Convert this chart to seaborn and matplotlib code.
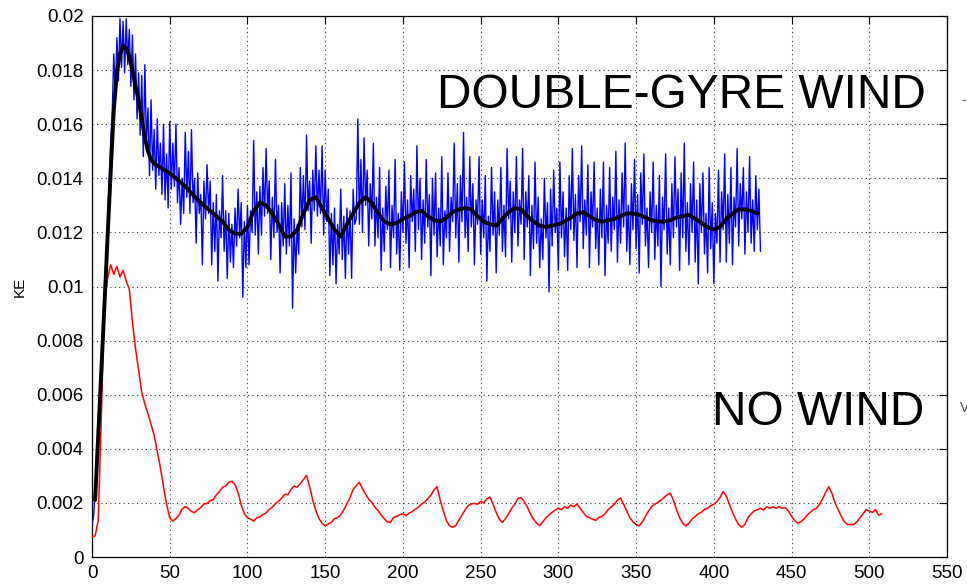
import numpy as np
import pandas as pd
import matplotlib
matplotlib.use("Agg")
import matplotlib.pyplot as plt
import seaborn as sns

sns.set_style("white")
plt.rcParams["font.family"] = ["Liberation Sans", "DejaVu Sans"]
plt.rcParams["text.color"] = "black"
plt.rcParams["axes.labelcolor"] = "black"

# Kinetic energy, in units of 1e-3
# Double-gyre wind forcing, raw record, one sample per time unit (t = 0 ... 430)
blue_ke = [
    1.2, 1.5, 2.4, 3.6, 4.9, 6.1, 7.3, 8.6, 9.8, 11.1,
    12.4, 13.9, 15.3, 16.4, 18.6, 17.1, 19.2, 17.6, 19.9, 18.1,
    19.8, 17.9, 19.9, 18.2, 19.5, 17.4, 19.3, 16.9, 18.6, 16.2,
    17.9, 15.6, 17.8, 14.8, 18.2, 15.3, 16.6, 14.1, 16.9, 14.3,
    15.8, 13.6, 16.2, 14.1, 15.3, 13.4, 16.0, 13.2, 14.9, 12.9,
    16.1, 13.6, 15.3, 13.7, 16.0, 13.1, 14.4, 12.3, 14.0, 12.7,
    15.7, 13.3, 15.0, 12.7, 15.8, 13.1, 14.0, 11.6, 14.2, 12.7,
    13.4, 10.8, 13.9, 12.5, 14.5, 12.7, 13.9, 10.8, 13.1, 11.3,
    13.4, 10.2, 12.8, 11.8, 14.1, 11.3, 12.8, 10.3, 12.7, 10.9,
    12.3, 10.7, 12.9, 11.5, 13.6, 11.8, 13.1, 9.6, 12.4, 10.7,
    13.0, 10.8, 12.8, 12.0, 15.4, 11.9, 13.5, 11.2, 13.7, 11.9,
    14.4, 12.6, 15.1, 12.7, 13.9, 11.0, 13.3, 11.8, 14.7, 12.0,
    13.0, 10.5, 13.1, 11.5, 13.8, 11.2, 13.0, 11.5, 14.2, 9.2,
    12.5, 10.5, 12.3, 11.2, 14.4, 12.2, 14.1, 12.1, 15.6, 12.8,
    13.9, 11.6, 14.3, 12.8, 15.2, 12.6, 14.3, 12.7, 15.2, 11.9,
    14.3, 12.4, 13.6, 10.4, 12.7, 10.8, 12.9, 10.1, 12.3, 11.2,
    13.6, 11.0, 12.6, 10.3, 12.9, 11.2, 12.8, 10.3, 13.6, 12.3,
    12.5, 16.2, 12.3, 14.7, 12.0, 15.5, 13.0, 14.3, 11.5, 13.8,
    12.5, 15.3, 11.5, 13.3, 11.8, 14.4, 10.6, 12.9, 11.3, 13.7,
    12.1, 14.3, 10.7, 13.0, 11.8, 14.7, 11.2, 12.7, 10.6, 13.5,
    12.0, 14.6, 11.6, 13.2, 10.7, 14.1, 12.4, 13.6, 11.3, 15.2,
    12.1, 14.0, 11.0, 13.2, 11.6, 14.7, 12.2, 13.4, 10.4, 14.0,
    11.9, 14.2, 11.1, 12.9, 11.5, 14.8, 10.8, 12.8, 11.8, 14.2,
    11.3, 13.3, 12.4, 15.3, 11.8, 13.8, 10.9, 14.1, 12.4, 15.7,
    11.8, 13.3, 11.3, 14.8, 12.2, 13.8, 10.8, 13.2, 12.3, 14.8,
    11.2, 13.2, 11.8, 14.1, 10.2, 12.6, 11.3, 14.4, 11.9, 13.5,
    10.5, 13.2, 11.9, 14.4, 11.3, 13.0, 11.1, 15.1, 12.5, 13.9,
    10.9, 13.5, 12.0, 14.8, 11.5, 13.2, 12.3, 15.1, 11.0, 13.5,
    12.2, 14.1, 10.4, 13.0, 11.4, 14.6, 11.6, 13.3, 10.7, 12.5,
    11.0, 14.0, 11.8, 13.1, 9.8, 13.6, 11.5, 14.3, 12.0, 12.9,
    10.6, 14.6, 11.8, 13.5, 11.1, 12.9, 10.6, 14.1, 12.1, 15.1,
    11.7, 13.4, 10.7, 14.1, 12.4, 15.2, 11.4, 13.2, 11.9, 14.5,
    10.7, 13.5, 12.2, 14.6, 11.4, 12.9, 10.8, 13.6, 11.8, 14.6,
    10.4, 13.0, 11.6, 14.4, 11.3, 13.3, 12.1, 15.0, 10.9, 13.2,
    11.6, 14.2, 12.2, 15.3, 11.3, 13.0, 10.8, 13.8, 12.1, 14.7,
    11.4, 13.4, 10.5, 14.2, 12.3, 14.9, 11.5, 12.9, 10.7, 13.5,
    12.0, 14.6, 11.0, 13.0, 11.5, 14.1, 10.0, 13.3, 12.1, 14.9,
    11.2, 12.9, 10.8, 13.8, 11.8, 14.8, 12.2, 13.6, 10.6, 14.2,
    11.8, 15.3, 11.3, 13.1, 10.8, 13.8, 12.0, 14.6, 10.9, 13.2,
    10.1, 13.8, 12.0, 14.2, 11.2, 12.7, 10.5, 14.4, 11.4, 13.1,
    10.1, 12.7, 11.6, 14.3, 10.9, 13.5, 12.1, 14.9, 10.9, 13.4,
    11.6, 14.4, 10.8, 13.3, 12.2, 15.1, 11.5, 13.8, 12.5, 14.4,
    11.2, 13.5, 12.0, 14.8, 11.6, 13.2, 11.3, 14.1, 12.1, 13.6,
    11.3,
]

# Double-gyre wind forcing, running mean
mean_t = [2, 4, 6, 8, 10, 12, 14, 16, 18, 20, 22, 24, 26, 28, 30, 32, 34, 36, 38] \
    + list(range(40, 429, 4))
mean_ke = [
    2.1, 4.5, 6.9, 9.3, 11.8, 14.2, 16.5, 17.9, 18.6, 18.9,
    18.8, 18.5, 18.0, 17.4, 16.9, 16.2, 15.5, 15.0, 14.7,
    14.55, 14.4, 14.25, 14.1, 13.9, 13.7, 13.45, 13.2, 13.0, 12.8,
    12.6, 12.4, 12.1, 11.95, 11.95, 12.2, 12.8, 13.1, 13.0, 12.7,
    12.3, 11.85, 11.85, 12.1, 12.7, 13.2, 13.3, 12.9, 12.5, 12.1,
    11.85, 12.3, 12.7, 13.1, 13.3, 13.1, 12.7, 12.4, 12.3, 12.35,
    12.5, 12.6, 12.75, 12.8, 12.6, 12.45, 12.4, 12.55, 12.75, 12.85,
    12.9, 12.85, 12.6, 12.4, 12.3, 12.25, 12.5, 12.75, 12.9, 12.85,
    12.6, 12.4, 12.25, 12.2, 12.25, 12.3, 12.4, 12.55, 12.7, 12.75,
    12.6, 12.45, 12.4, 12.45, 12.5, 12.6, 12.7, 12.7, 12.65, 12.55,
    12.45, 12.4, 12.4, 12.45, 12.55, 12.6, 12.65, 12.5, 12.35, 12.2,
    12.1, 12.2, 12.5, 12.7, 12.85, 12.85, 12.8, 12.7,
]

# No wind forcing, one sample every 2 time units (t = 0 ... 508)
red_ke = [
    0.74, 0.78, 1.35, 5.2, 9.4, 10.3, 10.8, 10.45, 10.75, 10.35,
    10.6, 10.2, 9.9, 8.7, 7.7, 6.9, 6.1, 5.65, 5.3, 4.9,
    4.5, 3.9, 3.3, 2.6, 1.95, 1.45, 1.33, 1.42, 1.55, 1.78,
    1.86, 1.8, 1.68, 1.64, 1.75, 1.83, 1.96, 1.98, 2.08, 2.12,
    2.3, 2.42, 2.58, 2.62, 2.76, 2.8, 2.68, 2.38, 1.92, 1.6,
    1.45, 1.4, 1.33, 1.45, 1.48, 1.57, 1.63, 1.76, 1.84, 1.97,
    2.06, 2.18, 2.32, 2.3, 2.5, 2.62, 2.58, 2.72, 2.86, 3.02,
    2.6, 2.1, 1.72, 1.42, 1.25, 1.15, 1.22, 1.28, 1.42, 1.45,
    1.56, 1.74, 1.97, 2.2, 2.5, 2.64, 2.76, 2.52, 2.32, 2.14,
    2.02, 1.84, 1.72, 1.55, 1.42, 1.3, 1.28, 1.46, 1.5, 1.56,
    1.6, 1.53, 1.62, 1.68, 1.77, 1.84, 1.96, 2.03, 2.16, 2.28,
    2.48, 2.6, 2.1, 1.7, 1.35, 1.15, 1.1, 1.16, 1.36, 1.55,
    1.74, 1.9, 1.96, 1.98, 1.95, 2.06, 2.0, 2.15, 2.22, 1.95,
    1.65, 1.4, 1.28, 1.42, 1.6, 1.8, 1.95, 2.16, 2.2, 2.05,
    1.85, 1.6, 1.4, 1.25, 1.16, 1.3, 1.45, 1.56, 1.65, 1.74,
    1.8, 1.75, 1.86, 1.8, 1.92, 1.86, 1.96, 1.8, 1.65, 1.5,
    1.45, 1.4, 1.35, 1.46, 1.5, 1.6, 1.75, 1.86, 1.95, 2.1,
    2.18, 1.95, 1.7, 1.45, 1.3, 1.2, 1.15, 1.3, 1.5, 1.7,
    1.86, 1.95, 2.02, 2.1, 2.2, 2.3, 2.36, 2.1, 1.75, 1.45,
    1.25, 1.15, 1.25, 1.4, 1.5, 1.6, 1.65, 1.76, 1.8, 1.9,
    1.95, 2.05, 2.2, 2.42, 2.25, 1.95, 1.65, 1.4, 1.2, 1.1,
    1.2, 1.45, 1.6, 1.7, 1.75, 1.8, 1.74, 1.86, 1.8, 1.85,
    1.8, 1.86, 1.8, 1.82, 1.7, 1.5, 1.35, 1.25, 1.3, 1.4,
    1.55, 1.65, 1.75, 1.8, 1.95, 2.15, 2.4, 2.6, 2.35, 2.0,
    1.75, 1.5, 1.3, 1.2, 1.2, 1.2, 1.3, 1.45, 1.6, 1.75,
    1.7, 1.65, 1.75, 1.55, 1.6,
]

x_ticks = [0, 50, 100, 150, 200, 250, 300, 350, 400, 450, 500, 550]
y_ticks = [0, 0.002, 0.004, 0.006, 0.008, 0.01, 0.012, 0.014, 0.016, 0.018, 0.02]
y_tick_labels = ["0", "0.002", "0.004", "0.006", "0.008", "0.01",
                 "0.012", "0.014", "0.016", "0.018", "0.02"]

blue_df = pd.DataFrame({"t": np.arange(len(blue_ke)), "KE": np.array(blue_ke) * 1e-3})
mean_df = pd.DataFrame({"t": mean_t, "KE": np.array(mean_ke) * 1e-3})
red_df = pd.DataFrame({"t": np.arange(len(red_ke)) * 2, "KE": np.array(red_ke) * 1e-3})

fig = plt.figure(figsize=(9.67, 5.85), dpi=100)
ax = fig.add_axes([92 / 967, 1 - 557 / 585, 855 / 967, 541 / 585])

sns.lineplot(data=blue_df, x="t", y="KE", ax=ax, color="#0000ff", lw=1.0,
             estimator=None, sort=False, zorder=3)
sns.lineplot(data=red_df, x="t", y="KE", ax=ax, color="#ff0000", lw=1.1,
             estimator=None, sort=False, zorder=3)
sns.lineplot(data=mean_df, x="t", y="KE", ax=ax, color="black", lw=2.8,
             estimator=None, sort=False, zorder=4)

ax.set_xlim(0, 550)
ax.set_ylim(0, 0.02)
ax.set_xticks(x_ticks)
ax.set_xticklabels([str(v) for v in x_ticks])
ax.set_yticks(y_ticks)
ax.set_yticklabels(y_tick_labels)
ax.tick_params(direction="in", length=6, width=0.8, top=True, right=True,
               labelsize=13.5, pad=6, colors="black")
ax.grid(True, linestyle=(0, (1, 3)), color="0.2", lw=0.8)
for s in ax.spines.values():
    s.set_color("black")
    s.set_linewidth(0.9)

ax.set_xlabel("")
ax.set_ylabel("KE", fontsize=11, labelpad=7, color="black")

ax.text(221.9, 0.0166, "DOUBLE-GYRE WIND", fontsize=34.5, color="black",
        ha="left", va="baseline", zorder=5)
ax.text(398.7, 0.00488, "NO WIND", fontsize=34.5, color="black",
        ha="left", va="baseline", zorder=5)

fig.text(961 / 967, 1 - 100 / 585, "-", fontsize=10, color="0.3", va="center")
fig.text(960 / 967, 1 - 408 / 585, "V", fontsize=10, color="0.3", va="center")

fig.savefig("out.png", dpi=100)
